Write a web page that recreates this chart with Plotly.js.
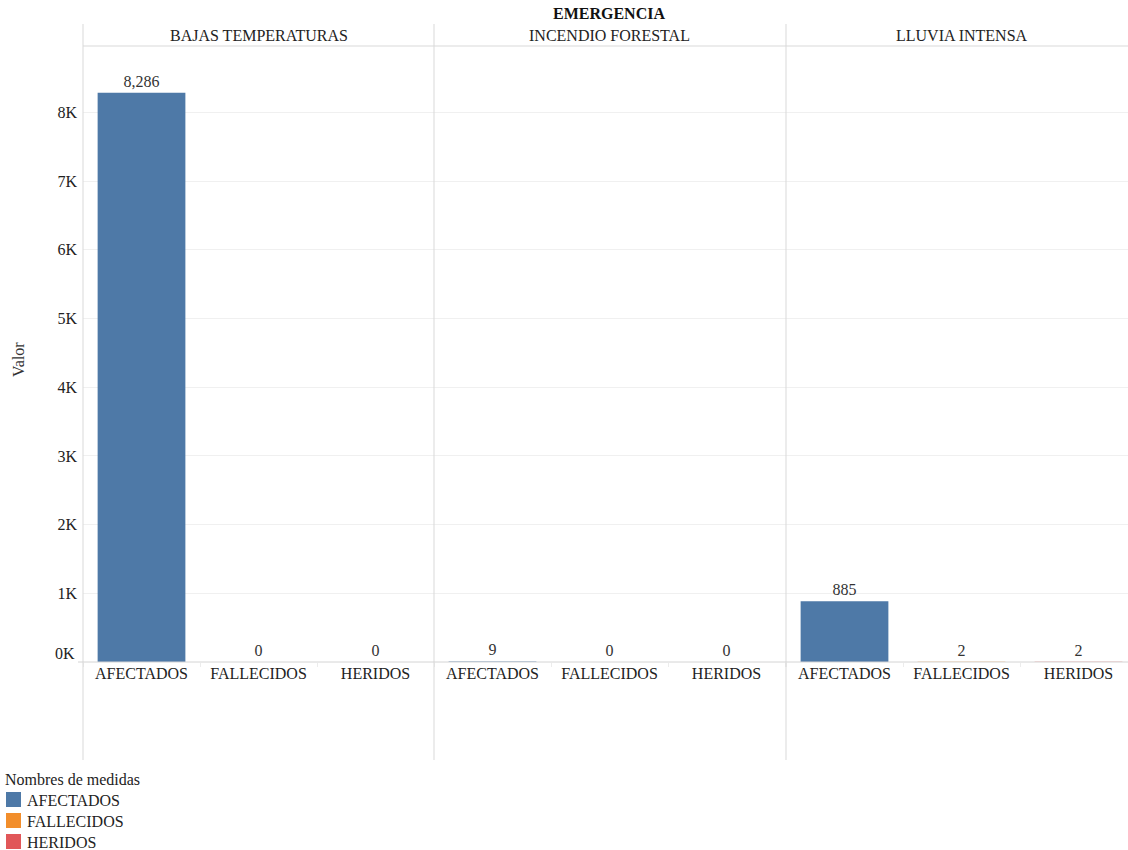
<!DOCTYPE html>
<html>
<head>
<meta charset="utf-8">
<script src="https://cdn.plot.ly/plotly-3.0.1.min.js"></script>
<style>html,body{margin:0;padding:0;background:#fff;}#chart{width:1128px;height:850px;}</style>
</head>
<body>
<div id="chart"></div>
<script>
const categories = ['AFECTADOS', 'FALLECIDOS', 'HERIDOS'];
const panels = ['BAJAS TEMPERATURAS', 'INCENDIO FORESTAL', 'LLUVIA INTENSA'];
const afectados = [8286, 9, 885];
const fallecidos = [0, 0, 2];
const heridos = [0, 0, 2];
const yTickVals = [0, 1000, 2000, 3000, 4000, 5000, 6000, 7000, 8000];
const yTickText = ['0K', '1K', '2K', '3K', '4K', '5K', '6K', '7K', '8K'];
const colors = ['#4e79a7', '#f28e2b', '#e15759'];
const titleText = 'EMERGENCIA';
const yTitle = 'Valor';
const legendTitle = 'Nombres de medidas';

const series = [afectados, fallecidos, heridos];
const FONT = 'Liberation Serif, Times New Roman, serif';
const FS = 16;
const W = 1128, H = 850;
const L = 83, T = 46, B = 662, R = 1128;
const PW = R - L, PH = B - T;
const px = x => (x - L) / PW;
const py = y => (B - y) / PH;
const bounds = [0, 351 / PW, 703 / PW, 1];

const traces = [];
categories.forEach((cat, m) => {
  panels.forEach((p, i) => {
    traces.push({
      type: 'bar',
      x: [cat],
      y: [series[m][i]],
      xaxis: i === 0 ? 'x' : 'x' + (i + 1),
      yaxis: 'y',
      name: cat,
      marker: {color: colors[m]},
      width: 0.75,
      text: [series[m][i]],
      texttemplate: '%{y:,}',
      textposition: 'outside',
      textfont: {family: FONT, size: FS, color: '#333'},
      cliponaxis: false,
      showlegend: false,
      hoverinfo: 'x+y'
    });
  });
});

function xAxis(i) {
  const span = (bounds[i + 1] - bounds[i]) * PW / 117;
  return {
    domain: [bounds[i], bounds[i + 1]],
    anchor: 'y',
    type: 'category',
    categoryorder: 'array',
    categoryarray: categories,
    range: [-0.5, -0.5 + span],
    showgrid: false,
    zeroline: false,
    showline: false,
    ticks: 'outside',
    tickson: 'boundaries',
    ticklen: 4,
    tickcolor: '#ececec',
    tickfont: {family: FONT, size: FS, color: '#222'},
    fixedrange: true
  };
}

const shapes = [];
[0, 351 / PW, 703 / PW].forEach(x => {
  shapes.push({type: 'line', xref: 'paper', yref: 'paper', x0: x, x1: x, y0: py(24), y1: py(760),
    line: {color: '#d9d9d9', width: 1}});
});
shapes.push({type: 'line', xref: 'paper', yref: 'paper', x0: 0, x1: 1, y0: 1, y1: 1,
  line: {color: '#d9d9d9', width: 1}});
shapes.push({type: 'line', xref: 'paper', yref: 'paper', x0: px(78), x1: 1, y0: 0, y1: 0,
  line: {color: '#d4d4d4', width: 1}});
categories.forEach((c, m) => {
  const top = 792 + m * 21;
  shapes.push({type: 'rect', xref: 'paper', yref: 'paper', x0: px(6), x1: px(21), y0: py(top), y1: py(top + 15),
    fillcolor: colors[m], line: {width: 0}});
});

const annotations = [];
annotations.push({text: '<b>' + titleText + '</b>', xref: 'paper', yref: 'paper', x: px(609), y: py(14),
  showarrow: false, xanchor: 'center', yanchor: 'middle', font: {family: FONT, size: FS, color: '#111'}});
panels.forEach((p, i) => {
  annotations.push({text: p, xref: 'paper', yref: 'paper', x: (bounds[i] + (bounds[i] + 351 / PW)) / 2, y: py(35),
    showarrow: false, xanchor: 'center', yanchor: 'middle', font: {family: FONT, size: FS, color: '#222'}});
});
annotations.push({text: yTitle, xref: 'paper', yref: 'paper', x: px(18), y: py(360), textangle: -90,
  showarrow: false, xanchor: 'center', yanchor: 'middle', font: {family: FONT, size: FS, color: '#333'}});
annotations.push({text: yTickText[0], xref: 'paper', yref: 'y', x: px(77), y: yTickVals[0], yshift: 9,
  showarrow: false, xanchor: 'right', yanchor: 'middle', font: {family: FONT, size: FS, color: '#222'}});
annotations.push({text: legendTitle, xref: 'paper', yref: 'paper', x: px(3), y: py(779),
  showarrow: false, xanchor: 'left', yanchor: 'middle', font: {family: FONT, size: FS, color: '#222'}});
categories.forEach((c, m) => {
  annotations.push({text: c, xref: 'paper', yref: 'paper', x: px(25), y: py(800 + m * 21),
    showarrow: false, xanchor: 'left', yanchor: 'middle', font: {family: FONT, size: FS, color: '#222'}});
});

const layout = {
  width: W, height: H,
  margin: {l: L, r: W - R, t: T, b: H - B, pad: 0},
  paper_bgcolor: '#fff', plot_bgcolor: '#fff',
  barmode: 'overlay',
  showlegend: false,
  font: {family: FONT, size: FS, color: '#222'},
  xaxis: xAxis(0), xaxis2: xAxis(1), xaxis3: xAxis(2),
  yaxis: {
    domain: [0, 1], anchor: 'x',
    range: [0, (B - T) / 68.7 * 1000],
    tickvals: yTickVals.slice(1), ticktext: yTickText.slice(1),
    showgrid: true, gridcolor: '#f0f0f0', gridwidth: 1,
    zeroline: false, showline: false, ticks: '',
    ticklabelstandoff: 5,
    tickfont: {family: FONT, size: FS, color: '#222'},
    fixedrange: true
  },
  shapes: shapes,
  annotations: annotations
};

Plotly.newPlot('chart', traces, layout, {displayModeBar: false, staticPlot: true});
</script>
</body>
</html>
